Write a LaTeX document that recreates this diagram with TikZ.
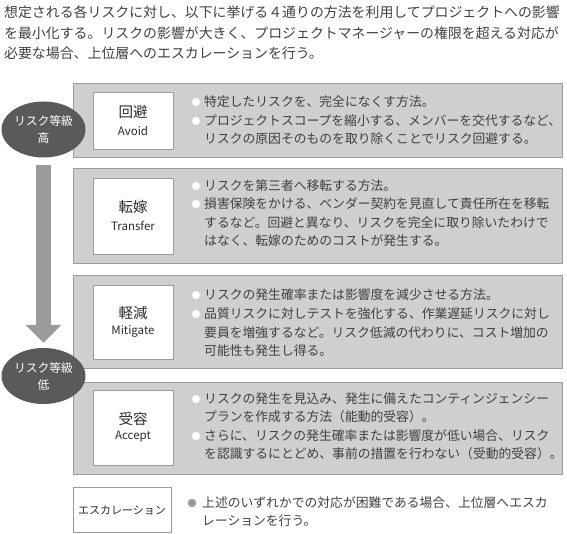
\documentclass[tikz,border=0pt]{standalone}
\usepackage{fontspec}
\setmainfont{Noto Sans CJK JP}
\usetikzlibrary{shapes.geometric,arrows.meta}
\definecolor{textgrau}{HTML}{404040}
\definecolor{titelgrau}{HTML}{2B2B2B}
\definecolor{feldgrau}{HTML}{CFCFCF}
\definecolor{randgrau}{HTML}{9C9C9C}
\definecolor{ovalgrau}{HTML}{5A5A5A}
\definecolor{pfeilgrau}{HTML}{9B9B9B}
\tikzset{
	feld/.style={fill=feldgrau, draw=randgrau, line width=0.8pt},
	kasten/.style={fill=white, draw=randgrau, line width=0.8pt},
	zeile/.style={anchor=west, inner sep=0pt, text=textgrau, font=\fontsize{12.8}{14}\selectfont},
	kopf/.style={anchor=west, inner sep=0pt, text=textgrau, font=\fontsize{13.9}{16}\selectfont},
	titel/.style={inner sep=0pt, text=titelgrau, font=\fontsize{14.5}{16}\selectfont},
	englisch/.style={inner sep=0pt, text=titelgrau, font=\fontsize{11.5}{13}\selectfont},
	stufe/.style={ellipse, fill=ovalgrau, text=white, minimum width=84pt, minimum height=56pt, inner sep=0pt, align=center, font=\fontsize{11.8}{17}\selectfont},
	punkt/.style={fill=white, draw=black!15, line width=0.4pt},
	pfeil/.style={draw=pfeilgrau, line width=15pt, -{Triangle[width=35pt,length=18pt]}, shorten <=7pt, shorten >=5pt}
}
\begin{document}
\begin{tikzpicture}[x=1pt, y=-1pt]
	\useasboundingbox (0,0) rectangle (567,534);
	% Einleitung oben
	\node[kopf] (kopf1) at (4,12) {想定される各リスクに対し、以下に挙げる４通りの方法を利用してプロジェクトへの影響};
	\node[kopf] (kopf2) at (4,33) {を最小化する。リスクの影響が大きく、プロジェクトマネージャーの権限を超える対応が};
	\node[kopf] (kopf3) at (4,53) {必要な場合、上位層へのエスカレーションを行う。};
	% Feld 1: Avoid
	\filldraw[feld] (73,83) rectangle (562,157);
	\filldraw[kasten] (93,92) rectangle (173,149);
	\node[titel] (avoid) at (133,112) {回避};
	\node[englisch] (avoiden) at (133,131) {Avoid};
	\filldraw[punkt] (196,102) circle (4.3);
	\node[zeile] (avoid1) at (204,102) {特定したリスクを、完全になくす方法。};
	\filldraw[punkt] (196,121) circle (4.3);
	\node[zeile] (avoid2) at (204,121) {プロジェクトスコープを縮小する、メンバーを交代するなど、};
	\node[zeile] (avoid3) at (204,139) {リスクの原因そのものを取り除くことでリスク回避する。};
	% Feld 2: Transfer
	\filldraw[feld] (73,168) rectangle (562,263);
	\filldraw[kasten] (93,178) rectangle (173,254);
	\node[titel] (transfer) at (133,207) {転嫁};
	\node[englisch] (transferen) at (133,226) {Transfer};
	\filldraw[punkt] (196,186) circle (4.3);
	\node[zeile] (transfer1) at (204,186) {リスクを第三者へ移転する方法。};
	\filldraw[punkt] (196,204) circle (4.3);
	\node[zeile] (transfer2) at (204,204) {損害保険をかける、ベンダー契約を見直して責任所在を移転};
	\node[zeile] (transfer3) at (204,223) {するなど。回避と異なり、リスクを完全に取り除いたわけで};
	\node[zeile] (transfer4) at (204,241) {はなく、転嫁のためのコストが発生する。};
	% Feld 3: Mitigate
	\filldraw[feld] (73,275) rectangle (562,368);
	\filldraw[kasten] (93,285) rectangle (173,359);
	\node[titel] (mitigate) at (133,313) {軽減};
	\node[englisch] (mitigateen) at (133,331) {Mitigate};
	\filldraw[punkt] (196,295) circle (4.3);
	\node[zeile] (mitigate1) at (204,295) {リスクの発生確率または影響度を減少させる方法。};
	\filldraw[punkt] (196,314) circle (4.3);
	\node[zeile] (mitigate2) at (204,314) {品質リスクに対しテストを強化する、作業遅延リスクに対し};
	\node[zeile] (mitigate3) at (204,333) {要員を増強するなど。リスク低減の代わりに、コスト増加の};
	\node[zeile] (mitigate4) at (204,351) {可能性も発生し得る。};
	% Feld 4: Accept
	\filldraw[feld] (73,382) rectangle (562,474);
	\filldraw[kasten] (93,390) rectangle (173,465);
	\node[titel] (accept) at (133,419) {受容};
	\node[englisch] (accepten) at (133,437) {Accept};
	\filldraw[punkt] (196,399) circle (4.3);
	\node[zeile] (accept1) at (204,399) {リスクの発生を見込み、発生に備えたコンティンジェンシー};
	\node[zeile] (accept2) at (204,417) {プランを作成する方法（能動的受容）。};
	\filldraw[punkt] (196,436) circle (4.3);
	\node[zeile] (accept3) at (204,436) {さらに、リスクの発生確率または影響度が低い場合、リスク};
	\node[zeile] (accept4) at (204,454) {を認識するにとどめ、事前の措置を行わない（受動的受容）。};
	% Eskalation
	\filldraw[kasten] (73,487) rectangle (171,532);
	\node[inner sep=0pt, text=titelgrau, font=\fontsize{11}{13}\selectfont] (eskalation) at (122,510) {エスカレーション};
	\fill[pfeilgrau] (192,503) circle (4.3);
	\node[zeile] (eskalation1) at (202,503) {上述のいずれかでの対応が困難である場合、上位層へエスカ};
	\node[zeile] (eskalation2) at (202,521) {レーションを行う。};
	% Risikostufen mit Pfeil
	\node[stufe] (hoch) at (43.5,129.5) {リスク等級\\高};
	\node[stufe] (niedrig) at (43.5,376) {リスク等級\\低};
	\draw[pfeil] (hoch) -- (niedrig);
\end{tikzpicture}
\end{document}
